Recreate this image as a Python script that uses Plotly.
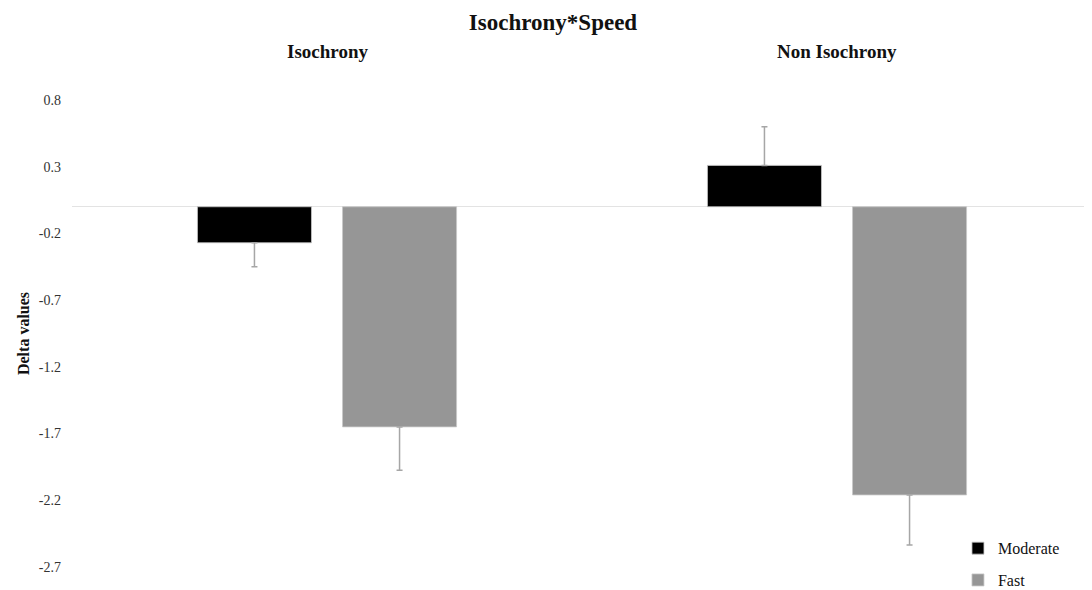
import plotly.graph_objects as go

categories = ["Isochrony", "Non Isochrony"]
series_names = ["Moderate", "Fast"]
moderate_values = [-0.27, 0.31]
fast_values = [-1.65, -2.16]
moderate_err_up = [0.0, 0.29]
moderate_err_down = [0.18, 0.0]
fast_err_up = [0.0, 0.0]
fast_err_down = [0.325, 0.375]
tick_values = [0.8, 0.3, -0.2, -0.7, -1.2, -1.7, -2.2, -2.7]
tick_labels = ["0.8", "0.3", "-0.2", "-0.7", "-1.2", "-1.7", "-2.2", "-2.7"]

SERIF = "Liberation Serif, Times New Roman, serif"
ERR_COLOR = "#a6a6a6"

# the page body adds an 8px offset, so the figure is sized to the visible area
W, H = 1084, 582
ML, MR, MT, MB = 64, 0, 72.1, 3.4

fig = go.Figure()
fig.add_trace(go.Bar(
    name=series_names[0], x=categories, y=moderate_values,
    marker=dict(color="#000000", line=dict(color="#c8c8c8", width=0.8)),
    error_y=dict(type="data", symmetric=False, array=moderate_err_up,
                 arrayminus=moderate_err_down, color=ERR_COLOR, thickness=1.5, width=3),
    legendgroup="a",
))
fig.add_trace(go.Bar(
    name=series_names[1], x=categories, y=fast_values,
    marker=dict(color="#969696", line=dict(color="#c8c8c8", width=0.8)),
    error_y=dict(type="data", symmetric=False, array=fast_err_up,
                 arrayminus=fast_err_down, color=ERR_COLOR, thickness=1.5, width=3),
    legendgroup="b",
))

plot_h = H - MT - MB
for c in categories:
    fig.add_annotation(x=c, xref="x", y=1 + (MT - 44) / plot_h, yref="paper", yanchor="middle",
                       text="<b>%s</b>" % c, showarrow=False,
                       font=dict(family=SERIF, size=19, color="#111111"))

fig.update_layout(
    width=W, height=H,
    paper_bgcolor="white", plot_bgcolor="white",
    margin=dict(l=ML, r=MR, t=MT, b=MB, autoexpand=False),
    barmode="group", bargap=0.431, bargroupgap=0.214,
    title=dict(text="<b>Isochrony*Speed</b>", x=(553 - 8) / W, xref="container", xanchor="center",
               y=1 - 6 / H, yref="container", yanchor="top", pad=dict(t=0, b=0),
               font=dict(family=SERIF, size=23, color="#111111")),
    showlegend=True,
    legend=dict(x=0.8686, xanchor="left", y=0.11, yanchor="top", yref="paper",
                bgcolor="rgba(0,0,0,0)", tracegroupgap=8,
                font=dict(family=SERIF, size=16, color="#111111"),
                itemwidth=30),
    font=dict(family=SERIF),
)
fig.update_xaxes(showticklabels=False, showgrid=False, showline=False, ticks="",
                 range=[-0.5, 1.5], automargin=False)
fig.update_yaxes(range=[-2.85, 0.95], tickvals=tick_values, ticktext=tick_labels,
                 showgrid=False, showline=False, ticks="", automargin=False,
                 zeroline=True, zerolinecolor="#e3e3e3", zerolinewidth=1,
                 tickfont=dict(family=SERIF, size=14, color="#333333"),
                 ticklabelstandoff=10,
                 title=dict(text="<b>Delta values</b>", standoff=5,
                            font=dict(family=SERIF, size=16, color="#111111")))

fig.write_html("out.html")
